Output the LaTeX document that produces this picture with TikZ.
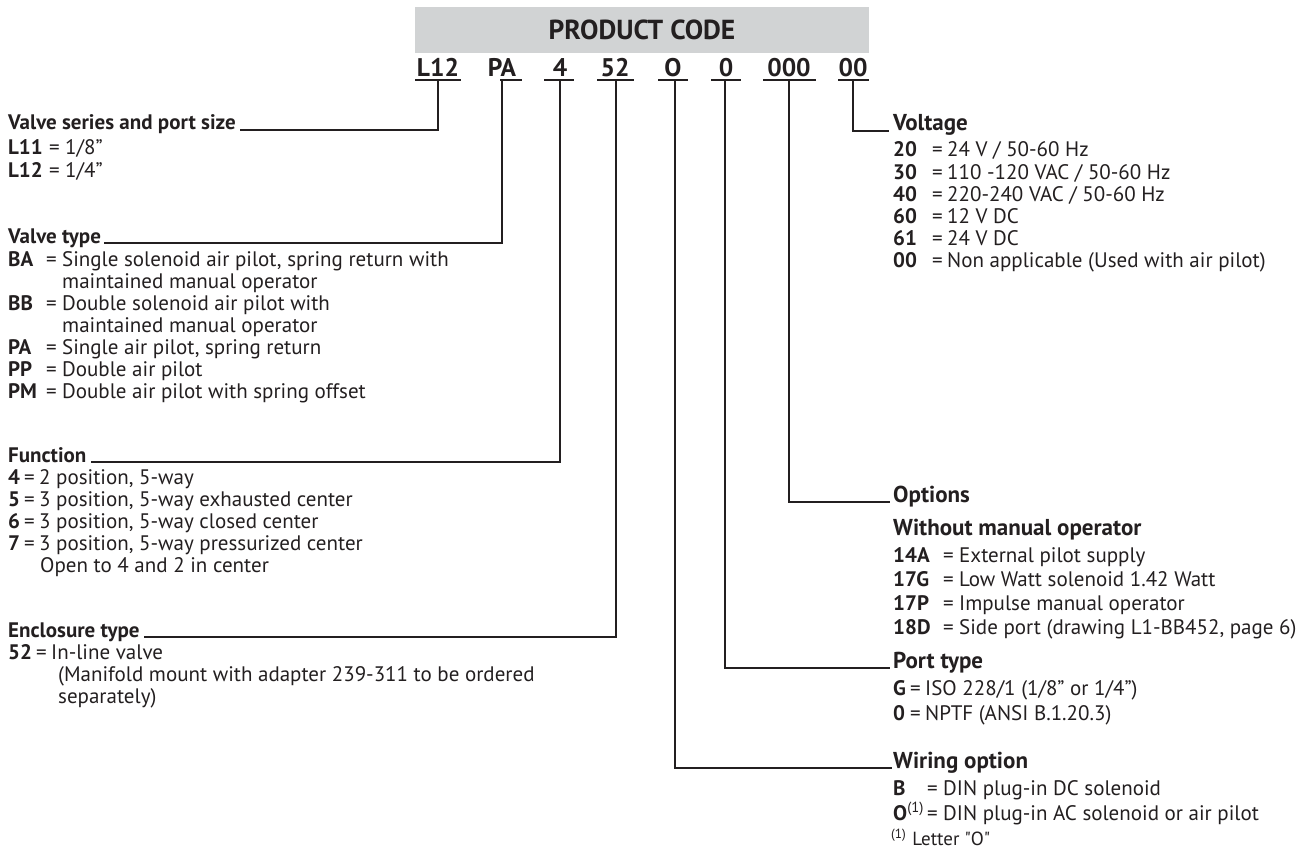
\documentclass[tikz,border=0pt]{standalone}
\usepackage{fontspec}
\setmainfont{PT Sans}
\usetikzlibrary{positioning}
\definecolor{boxgray}{RGB}{209,211,212}
\definecolor{inkgray}{RGB}{35,31,32}
% code, then the = sign, each in a box of fixed width
\newcommand{\cd}[3]{\makebox[#1pt][l]{\bfseries #2}\makebox[#3pt][l]{=}}

\begin{document}
\begin{tikzpicture}[x=1pt,y=-1pt,
    title_box/.style={fill=boxgray,minimum width=454pt,minimum height=46pt,inner sep=0pt,text=inkgray,font=\bfseries\fontsize{27.5}{32}\selectfont},
    code_txt/.style={anchor=base,inner sep=0pt,text=inkgray,font=\bfseries\fontsize{25.5}{30}\selectfont},
    code_line/.style={inkgray,line width=2.4pt},
    lead/.style={inkgray,line width=1.4pt},
    left_head/.style={anchor=base west,inner sep=0pt,text=inkgray,font=\bfseries\fontsize{21}{25}\selectfont},
    left_item/.style={anchor=base west,inner sep=0pt,text=inkgray,font=\fontsize{21}{25}\selectfont},
    right_head/.style={anchor=base west,inner sep=0pt,text=inkgray,font=\bfseries\fontsize{23}{27}\selectfont},
    right_item/.style={anchor=base west,inner sep=0pt,text=inkgray,font=\fontsize{21}{25}\selectfont}]
  \useasboundingbox (0,0) rectangle (1311,856);
  % product code
  \node[title_box] (title) at (642,30) {PRODUCT CODE};
  \node[code_txt] (cL12) at (438,77) {L12};
  \node[code_txt] (cPA) at (502,77) {PA};
  \node[code_txt] (cFn) at (560,77) {4};
  \node[code_txt] (cEnc) at (615,77) {52};
  \node[code_txt] (cWir) at (673,77) {O};
  \node[code_txt] (cPort) at (726,77) {0};
  \node[code_txt] (cOpt) at (789,77) {000};
  \node[code_txt] (cVolt) at (853,77) {00};
  \draw[code_line] (415,80) -- (461,80);
  \draw[code_line] (500,80) -- (522,80);
  \draw[code_line] (544,80) -- (574,80);
  \draw[code_line] (597,80) -- (634,80);
  \draw[code_line] (658,80) -- (688,80);
  \draw[code_line] (711,80) -- (741,80);
  \draw[code_line] (763,80) -- (816,80);
  \draw[code_line] (838,80) -- (869,80);
  \coordinate (uL12) at (438,80);
  \coordinate (uPA) at (502,80);
  \coordinate (uFn) at (560,80);
  \coordinate (uEnc) at (616,80);
  \coordinate (uWir) at (675,80);
  \coordinate (uPort) at (725,80);
  \coordinate (uOpt) at (789,80);
  \coordinate (uVolt) at (853,80);
  % left column
  \node[left_head] (hSeries) at (8,130) {Valve series and port size};
  \node[left_item] at (8,154) {\cd{41}{L11}{16}1/8”};
  \node[left_item] at (8,177) {\cd{41}{L12}{16}1/4”};
  \node[left_head] (hType) at (8,243) {Valve type};
  \node[left_item] at (8,266) {\cd{38}{BA}{16}Single solenoid air pilot, spring return with};
  \node[left_item] at (62,288) {maintained manual operator};
  \node[left_item] at (8,310) {\cd{38}{BB}{16}Double solenoid air pilot with};
  \node[left_item] at (62,332) {maintained manual operator};
  \node[left_item] at (8,354) {\cd{38}{PA}{16}Single air pilot, spring return};
  \node[left_item] at (8,376) {\cd{38}{PP}{16}Double air pilot};
  \node[left_item] at (8,398) {\cd{38}{PM}{16}Double air pilot with spring offset};
  \node[left_head] (hFn) at (8,462) {Function};
  \node[left_item] at (8,484) {\cd{16}{4}{15}2 position, 5-way};
  \node[left_item] at (8,506) {\cd{16}{5}{15}3 position, 5-way exhausted center};
  \node[left_item] at (8,528) {\cd{16}{6}{15}3 position, 5-way closed center};
  \node[left_item] at (8,550) {\cd{16}{7}{15}3 position, 5-way pressurized center};
  \node[left_item] at (40,572) {Open to 4 and 2 in center};
  \node[left_head] (hEnc) at (8,637) {Enclosure type};
  \node[left_item] at (8,659) {\cd{28}{52}{15}In-line valve};
  \node[left_item] at (58,681) {(Manifold mount with adapter 239-311 to be ordered};
  \node[left_item] at (58,703) {separately)};
  % right column
  \node[right_head] (hVolt) at (893,131) {Voltage};
  \node[right_item] at (893,157) {\cd{39}{20}{15}24 V / 50-60 Hz};
  \node[right_item] at (893,179) {\cd{39}{30}{15}110 -120 VAC / 50-60 Hz};
  \node[right_item] at (893,201) {\cd{39}{40}{15}220-240 VAC / 50-60 Hz};
  \node[right_item] at (893,223) {\cd{39}{60}{15}12 V DC};
  \node[right_item] at (893,245) {\cd{39}{61}{15}24 V DC};
  \node[right_item] at (893,267) {\cd{39}{00}{15}Non applicable (Used with air pilot)};
  \node[right_head] (hOpt) at (893,502) {Options};
  \node[right_head] at (893,535) {Without manual operator};
  \node[right_item] at (893,562) {\cd{50}{14A}{16}External pilot supply};
  \node[right_item] at (893,586) {\cd{50}{17G}{16}Low Watt solenoid 1.42 Watt};
  \node[right_item] at (893,610) {\cd{50}{17P}{16}Impulse manual operator};
  \node[right_item] at (893,634) {\cd{50}{18D}{16}Side port (drawing L1-BB452, page 6)};
  \node[right_head] (hPort) at (893,668) {Port type};
  \node[right_item] at (893,695) {\cd{17}{G}{15}ISO 228/1 (1/8” or 1/4”)};
  \node[right_item] at (893,720) {\cd{17}{0}{15}NPTF (ANSI B.1.20.3)};
  \node[right_head] (hWir) at (893,768) {Wiring option};
  \node[right_item] at (893,795) {\cd{34}{B}{16}DIN plug-in DC solenoid};
  \node[right_item] at (893,820) {\cd{34}{O\textsuperscript{\mdseries(1)}}{16}DIN plug-in AC solenoid or air pilot};
  \node[right_item,font=\fontsize{19}{23}\selectfont] at (891,845) {\textsuperscript{(1)}\hspace{6pt}Letter \textquotedbl O\textquotedbl};
  % leaders
  \draw[lead] (uL12) |- ([xshift=4pt]hSeries.base east);
  \draw[lead] (uPA) |- ([xshift=3pt]hType.base east);
  \draw[lead] (uFn) |- ([xshift=4pt]hFn.base east);
  \draw[lead] (uEnc) |- ([xshift=4pt]hEnc.base east);
  \draw[lead] (uVolt) |- ([xshift=-4pt]hVolt.base west);
  \draw[lead] (uOpt) |- ([xshift=-3pt]hOpt.base west);
  \draw[lead] (uPort) |- ([xshift=-3pt]hPort.base west);
  \draw[lead] (uWir) |- ([xshift=-1pt]hWir.base west);
\end{tikzpicture}
\end{document}
